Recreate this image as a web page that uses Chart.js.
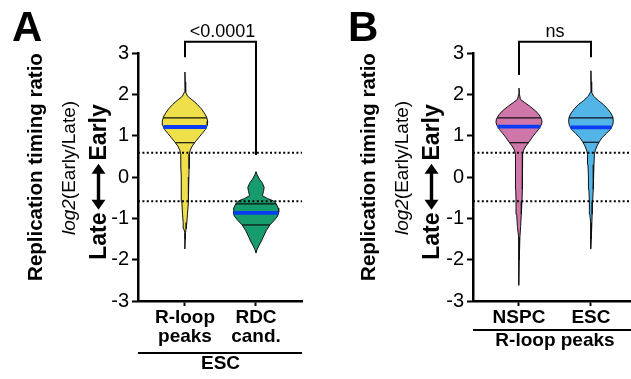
<!DOCTYPE html>
<html>
<head>
<meta charset="utf-8">
<script src="https://cdn.jsdelivr.net/npm/chart.js@4.4.0/dist/chart.umd.min.js"></script>
<style>
  html, body { margin: 0; padding: 0; background: #fff; }
  #wrap { position: relative; width: 631px; height: 379px; overflow: hidden;
          font-family: "Liberation Sans", Arial, sans-serif; color: #000; }
  canvas { position: absolute; top: 0; }
  .rot { position: absolute; white-space: nowrap; line-height: 1;
         transform: translate(-50%, -50%) rotate(-90deg); }
  .letter { position: absolute; font-weight: bold; font-size: 42px; line-height: 1; }
  .t1 { font-weight: bold; font-size: 20.5px; }
  .t2 { font-size: 19px; }
  .t3 { font-weight: bold; font-size: 23px; display: flex; align-items: center; }
  .t3 svg { margin: 0 3px; }
</style>
</head>
<body>
<div id="wrap">
  <canvas id="chartA" width="320" height="379" style="left:0"></canvas>
  <canvas id="chartB" width="296" height="379" style="left:335px"></canvas>

  <div class="letter" style="left:12px;top:6px">A</div>
  <div class="rot t1" style="left:35px;top:167px">Replication timing ratio</div>
  <div class="rot t2" style="left:68px;top:168px"><i>log2</i>(Early/Late)</div>
  <div class="rot t3" style="left:98px;top:182px">Late<svg width="46" height="16" viewBox="0 0 46 16"><path d="M0 8 L10 1 L10 6.3 L36 6.3 L36 1 L46 8 L36 15 L36 9.7 L10 9.7 L10 15 Z" fill="#000"/></svg>Early</div>

  <div class="letter" style="left:348px;top:6px">B</div>
  <div class="rot t1" style="left:368px;top:167px">Replication timing ratio</div>
  <div class="rot t2" style="left:401px;top:168px"><i>log2</i>(Early/Late)</div>
  <div class="rot t3" style="left:431px;top:182px">Late<svg width="46" height="16" viewBox="0 0 46 16"><path d="M0 8 L10 1 L10 6.3 L36 6.3 L36 1 L46 8 L36 15 L36 9.7 L10 9.7 L10 15 Z" fill="#000"/></svg>Early</div>
</div>

<script>
  // categories and labels
  var catsA = [["R-loop", "peaks"], ["RDC", "cand."]];
  var catsB = ["NSPC", "ESC"];
  var groupA = "ESC";
  var groupB = "R-loop peaks";
  var pValueA = "<0.0001";
  var pValueB = "ns";
  var thresholds = [0.585, -0.585];

  // violin profiles: values (top -> bottom) and relative half-width
  var rloopEscY = [2.54, 2.3, 2.05, 1.95, 1.85, 1.75, 1.65, 1.55, 1.45, 1.35, 1.25, 1.15, 1.05, 0.95, 0.85, 0.75, 0.65, 0.55, 0.4, 0.2, 0, -0.3, -0.6, -0.9, -1.1, -1.25, -1.35, -1.5, -1.74];
  var rloopEscW = [0, 0.01, 0.03, 0.12, 0.35, 0.55, 0.72, 0.85, 0.95, 1.0, 0.98, 0.9, 0.75, 0.6, 0.45, 0.32, 0.23, 0.19, 0.18, 0.18, 0.17, 0.16, 0.14, 0.11, 0.08, 0.05, 0.02, 0.01, 0];
  var rdcEscY = [0.13, 0.05, -0.05, -0.15, -0.25, -0.35, -0.45, -0.52, -0.58, -0.65, -0.75, -0.85, -0.95, -1.05, -1.16, -1.3, -1.45, -1.55, -1.65, -1.75, -1.84];
  var rdcEscW = [0, 0.05, 0.15, 0.28, 0.36, 0.33, 0.28, 0.5, 0.78, 0.89, 0.98, 1.0, 0.95, 0.8, 0.61, 0.45, 0.32, 0.24, 0.14, 0.05, 0];
  var rloopNspcY = [2.15, 2.0, 1.88, 1.8, 1.7, 1.6, 1.5, 1.4, 1.33, 1.25, 1.15, 1.05, 0.95, 0.85, 0.75, 0.65, 0.55, 0.3, 0, -0.3, -0.6, -0.9, -1.2, -1.45, -1.6, -2.0, -2.62];
  var rloopNspcW = [0, 0.02, 0.06, 0.25, 0.5, 0.72, 0.88, 0.98, 1.0, 0.96, 0.85, 0.7, 0.56, 0.44, 0.3, 0.2, 0.16, 0.15, 0.15, 0.14, 0.13, 0.1, 0.07, 0.04, 0.015, 0.01, 0];
  var rloopEsc2Y = [2.57, 2.3, 2.05, 1.95, 1.85, 1.75, 1.65, 1.55, 1.45, 1.35, 1.25, 1.15, 1.05, 0.95, 0.85, 0.75, 0.65, 0.55, 0.3, 0, -0.3, -0.6, -0.9, -1.1, -1.3, -1.5, -1.74];
  var rloopEsc2W = [0, 0.01, 0.03, 0.12, 0.32, 0.55, 0.72, 0.86, 0.95, 0.97, 0.94, 0.84, 0.66, 0.48, 0.36, 0.26, 0.19, 0.15, 0.13, 0.11, 0.09, 0.07, 0.05, 0.04, 0.02, 0.01, 0];

  // quartiles: [q1, median, q3]
  var rloopEscQ = [0.83, 1.21, 1.43];
  var rdcEscQ = [-1.16, -0.87, -0.65];
  var rloopNspcQ = [0.83, 1.22, 1.43];
  var rloopEsc2Q = [0.84, 1.2, 1.43];

  // brackets: [left leg end, bar level, right leg end]
  var bracketA = [2.9, 3.27, 0.53];
  var bracketB = [2.47, 3.27, 2.9];

  var colors = {
    yellow: "#efe04b",
    green: "#179c6d",
    pink: "#cf77a8",
    blue: "#53b4e7",
    median: "#0a3cf5"
  };
  var HALF = 0.32;

  function widthAt(ys, ws, v) {
    for (var i = 0; i < ys.length - 1; i++) {
      if (ys[i] >= v && ys[i + 1] <= v) {
        var t = (ys[i] - v) / (ys[i] - ys[i + 1]);
        return ws[i] + t * (ws[i + 1] - ws[i]);
      }
    }
    return 0;
  }

  function violinDatasets(center, ys, ws, q, fill) {
    var pts = [];
    var i;
    for (i = 0; i < ys.length; i++) pts.push({ x: center + ws[i] * HALF, y: ys[i] });
    for (i = ys.length - 1; i >= 0; i--) pts.push({ x: center - ws[i] * HALF, y: ys[i] });
    pts.push(pts[0]);
    var out = [{
      data: pts, showLine: true, fill: "shape", backgroundColor: fill,
      borderColor: "#111", borderWidth: 1, pointRadius: 0, order: 5
    }];
    q.forEach(function (v, k) {
      var w = widthAt(ys, ws, v) * HALF;
      out.push({
        data: [{ x: center - w, y: v }, { x: center + w, y: v }],
        showLine: true, pointRadius: 0,
        borderColor: k === 1 ? colors.median : "#111",
        borderWidth: k === 1 ? 3.8 : 1.2,
        order: k === 1 ? 1 : 2
      });
    });
    return out;
  }

  function lineDs(pts, opts) {
    var d = { data: pts, showLine: true, pointRadius: 0, borderColor: "#000", borderWidth: 2, order: 3, clip: false };
    for (var k in opts) d[k] = opts[k];
    return d;
  }

  function makeChart(id, cfg) {
    var ds = [];
    cfg.violins.forEach(function (v) { ds = ds.concat(violinDatasets(v[0], v[1], v[2], v[3], v[4])); });
    thresholds.forEach(function (t) {
      ds.push(lineDs([{ x: cfg.xMin, y: t }, { x: cfg.xMax, y: t }], { borderDash: [2, 2.4], order: 4, clip: true }));
    });
    var b = cfg.bracket;
    ds.push(lineDs([{ x: 1, y: b[0] }, { x: 1, y: b[1] }, { x: 2, y: b[1] }, { x: 2, y: b[2] }], {}));

    var annot = {
      id: "annot",
      afterDraw: function (chart) {
        var ctx = chart.ctx;
        var xs = chart.scales.x, ysc = chart.scales.y;
        ctx.save();
        ctx.fillStyle = "#000";
        ctx.strokeStyle = "#000";
        ctx.textAlign = "center";
        ctx.textBaseline = "middle";
        ctx.font = "18px 'Liberation Sans', Arial, sans-serif";
        ctx.fillText(cfg.pText, (xs.getPixelForValue(1) + xs.getPixelForValue(2)) / 2 + cfg.pShift, ysc.getPixelForValue(b[1]) - 10);
        var ly = chart.chartArea.bottom + cfg.groupOffset;
        ctx.lineWidth = 2;
        ctx.beginPath();
        ctx.moveTo(chart.chartArea.left, ly);
        ctx.lineTo(chart.chartArea.right, ly);
        ctx.stroke();
        ctx.font = "bold 19px 'Liberation Sans', Arial, sans-serif";
        ctx.fillText(cfg.group, (xs.getPixelForValue(1) + xs.getPixelForValue(2)) / 2, ly + 11);
        ctx.restore();
      }
    };

    return new Chart(document.getElementById(id), {
      type: "scatter",
      data: { datasets: ds },
      options: {
        responsive: false,
        devicePixelRatio: 1,
        animation: false,
        layout: { padding: { top: 53, right: cfg.padRight, left: 0, bottom: 0 } },
        plugins: { legend: { display: false }, tooltip: { enabled: false } },
        scales: {
          x: {
            type: "linear", min: cfg.xMin, max: cfg.xMax,
            afterBuildTicks: function (s) { s.ticks = [{ value: 1 }, { value: 2 }]; },
            afterFit: function (s) { s.height = 78; },
            ticks: {
              color: "#000", padding: 2, maxRotation: 0, autoSkip: false,
              font: { family: "'Liberation Sans', Arial, sans-serif", size: 19, weight: "bold", lineHeight: 1.0 },
              callback: function (v, i) { return cfg.cats[i]; }
            },
            grid: { drawOnChartArea: false, drawTicks: true, tickLength: 5, color: "#000", tickWidth: 2 },
            border: { display: true, color: "#000", width: 2.5 }
          },
          y: {
            min: -3, max: 3,
            afterFit: function (s) { s.width = 138; },
            ticks: {
              stepSize: 1, color: "#000", padding: 3,
              font: { family: "'Liberation Sans', Arial, sans-serif", size: 20 }
            },
            grid: { drawOnChartArea: false, drawTicks: true, tickLength: 6, color: "#000", tickWidth: 2 },
            border: { display: true, color: "#000", width: 2.5 }
          }
        }
      },
      plugins: [annot]
    });
  }

  makeChart("chartA", {
    xMin: 0.338, xMax: 2.648, padRight: 18,
    cats: catsA, group: groupA, groupOffset: 52, pText: pValueA, pShift: 2, bracket: bracketA,
    violins: [
      [1, rloopEscY, rloopEscW, rloopEscQ, colors.yellow],
      [2, rdcEscY, rdcEscW, rdcEscQ, colors.green]
    ]
  });

  makeChart("chartB", {
    xMin: 0.361, xMax: 2.556, padRight: 0,
    cats: catsB, group: groupB, groupOffset: 29, pText: pValueB, pShift: 0, bracket: bracketB,
    violins: [
      [1, rloopNspcY, rloopNspcW, rloopNspcQ, colors.pink],
      [2, rloopEsc2Y, rloopEsc2W, rloopEsc2Q, colors.blue]
    ]
  });
</script>
</body>
</html>
